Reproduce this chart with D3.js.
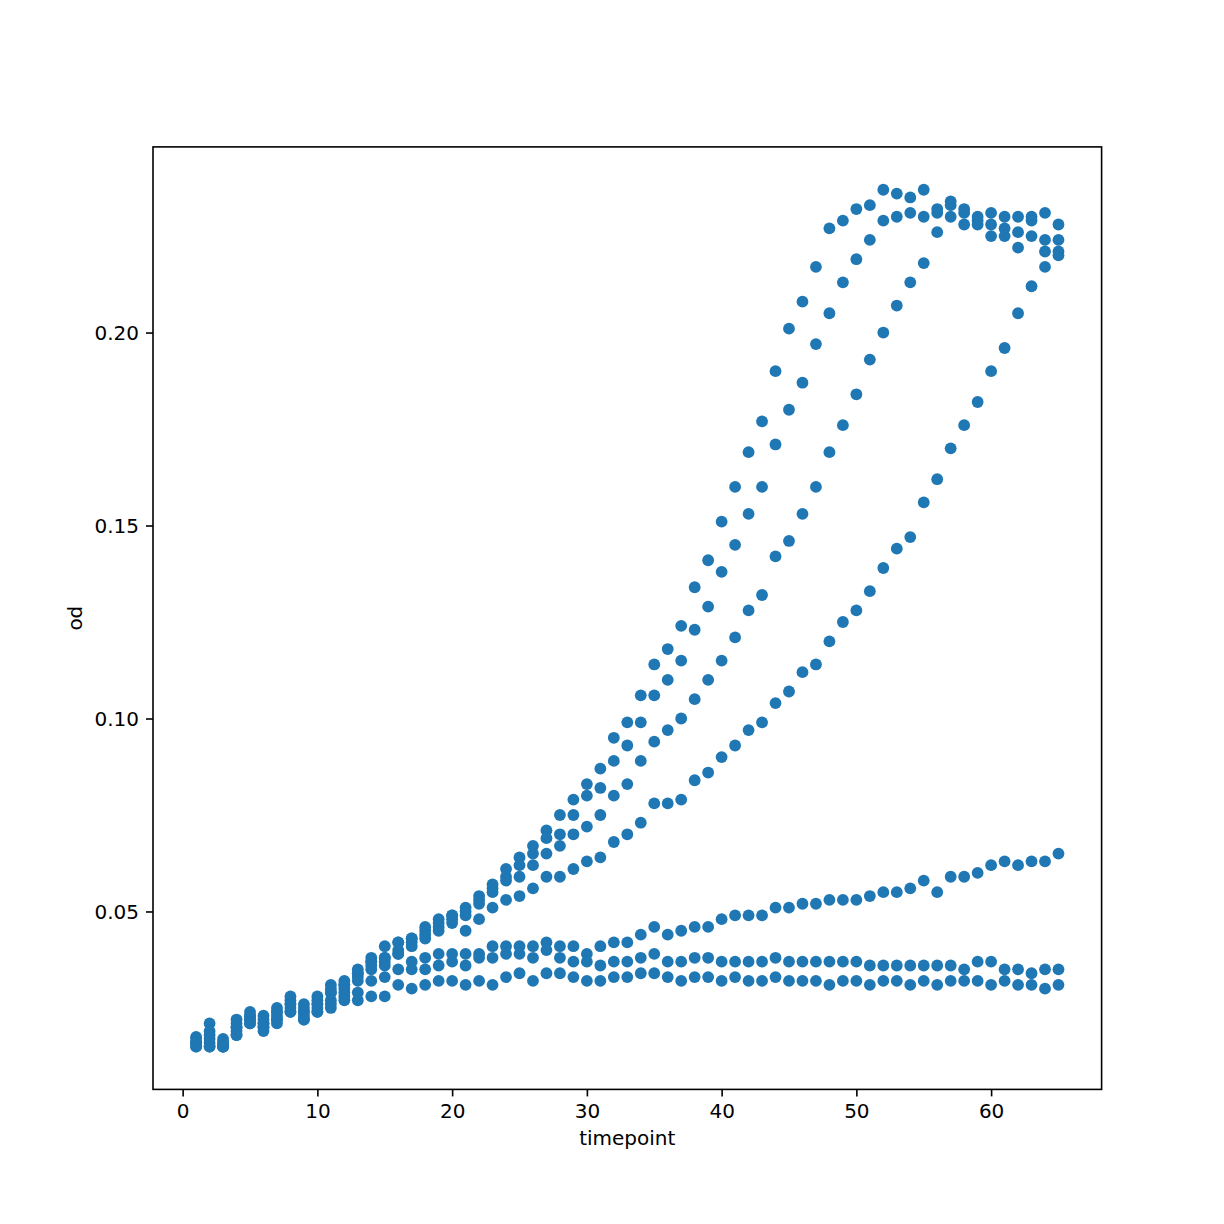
<!DOCTYPE html>
<html>
<head>
<meta charset="utf-8">
<script src="https://cdn.jsdelivr.net/npm/d3@7"></script>
<style>
  html, body { margin: 0; padding: 0; background: #ffffff; }
  svg { display: block; }
  text { font-family: "DejaVu Sans", sans-serif; fill: #000; }
</style>
</head>
<body>
<div id="chart"></div>
<script>
// ---- data ----
const timepoints = [1,2,3,4,5,6,7,8,9,10,11,12,13,14,15,16,17,18,19,20,
  21,22,23,24,25,26,27,28,29,30,31,32,33,34,35,36,37,38,39,40,
  41,42,43,44,45,46,47,48,49,50,51,52,53,54,55,56,57,58,59,60,61,62,63,64,65];

const odA = [0.0175,0.021,0.017,0.022,0.024,0.023,0.025,0.028,0.026,0.028,0.031,0.032,0.035,0.038,0.041,0.042,0.043,0.046,0.048,0.049,
  0.051,0.054,0.057,0.061,0.064,0.067,0.071,0.075,0.079,0.083,0.087,0.095,0.099,0.106,0.114,0.118,0.124,0.134,0.141,0.151,
  0.160,0.169,0.177,0.190,0.201,0.208,0.217,0.227,0.229,0.232,0.233,0.237,0.236,0.235,0.237,0.232,0.234,0.232,0.230,0.231,0.230,0.230,0.230,0.231,0.228];

const odA2 = [0.017,0.019,0.016,0.021,0.023,0.022,0.024,0.027,0.025,0.027,0.030,0.031,0.034,0.037,0.038,0.042,0.043,0.045,0.047,0.049,
  0.050,0.053,0.056,0.059,0.062,0.065,0.069,0.070,0.075,0.080,0.082,0.089,0.093,0.099,0.106,0.110,0.115,0.123,0.129,0.138,
  0.145,0.153,0.160,0.171,0.180,0.187,0.197,0.205,0.213,0.219,0.224,0.229,0.230,0.231,0.230,0.231,0.233,0.231,0.229,0.228,0.227,0.226,0.229,0.224,0.224];

const odB = [0.016,0.018,0.016,0.020,0.023,0.021,0.024,0.026,0.024,0.026,0.029,0.031,0.034,0.037,0.038,0.040,0.042,0.044,0.046,0.048,
  0.049,0.052,0.055,0.058,0.059,0.062,0.065,0.067,0.070,0.072,0.075,0.080,0.083,0.089,0.094,0.097,0.100,0.105,0.110,0.115,
  0.121,0.128,0.132,0.142,0.146,0.153,0.160,0.169,0.176,0.184,0.193,0.200,0.207,0.213,0.218,0.226,0.230,0.228,0.228,0.225,0.225,0.222,0.225,0.221,0.221];

const odC = [0.016,0.017,0.015,0.020,0.022,0.021,0.023,0.026,0.024,0.026,0.029,0.030,0.033,0.036,0.037,0.039,0.041,0.043,0.045,0.047,
  0.045,0.048,0.051,0.053,0.054,0.056,0.059,0.059,0.061,0.063,0.064,0.068,0.070,0.073,0.078,0.078,0.079,0.084,0.086,0.090,
  0.093,0.097,0.099,0.104,0.107,0.112,0.114,0.120,0.125,0.128,0.133,0.139,0.144,0.147,0.156,0.162,0.170,0.176,0.182,0.190,0.196,0.205,0.212,0.217,0.220];

const odD = [0.016,0.016,0.015,0.019,0.022,0.020,0.022,0.025,0.023,0.025,0.027,0.029,0.032,0.035,0.036,0.039,0.037,0.038,0.039,0.039,
  0.039,0.039,0.041,0.041,0.041,0.041,0.042,0.041,0.041,0.039,0.041,0.042,0.042,0.044,0.046,0.044,0.045,0.046,0.046,0.048,
  0.049,0.049,0.049,0.051,0.051,0.052,0.052,0.053,0.053,0.053,0.054,0.055,0.055,0.056,0.058,0.055,0.059,0.059,0.060,0.062,0.063,0.062,0.063,0.063,0.065];

const odE = [0.015,0.015,0.015,0.018,0.021,0.020,0.022,0.024,0.022,0.024,0.026,0.028,0.029,0.032,0.033,0.035,0.035,0.035,0.036,0.037,
  0.036,0.038,0.038,0.039,0.039,0.038,0.040,0.038,0.037,0.037,0.036,0.037,0.037,0.038,0.039,0.037,0.037,0.038,0.038,0.037,
  0.037,0.037,0.037,0.038,0.037,0.037,0.037,0.037,0.037,0.037,0.036,0.036,0.036,0.036,0.036,0.036,0.036,0.035,0.037,0.037,0.035,0.035,0.034,0.035,0.035];

const odF = [0.015,0.015,0.015,0.018,0.021,0.019,0.021,0.024,0.022,0.024,0.025,0.027,0.027,0.028,0.028,0.031,0.030,0.031,0.032,0.032,
  0.031,0.032,0.031,0.033,0.034,0.032,0.034,0.034,0.033,0.032,0.032,0.033,0.033,0.034,0.034,0.033,0.032,0.033,0.033,0.032,
  0.033,0.032,0.032,0.033,0.032,0.032,0.032,0.031,0.032,0.032,0.031,0.032,0.032,0.031,0.032,0.031,0.032,0.032,0.032,0.031,0.032,0.031,0.031,0.030,0.031];

const xTicks = [0, 10, 20, 30, 40, 50, 60];
const yTicks = [0.05, 0.10, 0.15, 0.20];
const xLabel = "timepoint";
const yLabel = "od";

// ---- build table ----
const seriesList = [odA, odA2, odB, odC, odD, odE, odF];
const points = [];
seriesList.forEach(s => s.forEach((v, i) => points.push({ t: timepoints[i], od: v })));

// ---- layout ----
const W = 1224, H = 1224;
const plotL = 153, plotR = 1101.6, plotT = 146.9, plotB = 1089.4;

const xExt = d3.extent(points, d => d.t);
const yExt = d3.extent(points, d => d.od);
const xPad = (xExt[1] - xExt[0]) * 0.05;
const yPad = (yExt[1] - yExt[0]) * 0.05;

const x = d3.scaleLinear().domain([xExt[0] - xPad, xExt[1] + xPad]).range([plotL, plotR]);
const y = d3.scaleLinear().domain([yExt[0] - yPad, yExt[1] + yPad]).range([plotB, plotT]);

const svg = d3.select("#chart").append("svg")
  .attr("width", W).attr("height", H).attr("viewBox", `0 0 ${W} ${H}`);

svg.append("rect").attr("width", W).attr("height", H).attr("fill", "#ffffff");

// points
svg.append("g").selectAll("circle")
  .data(points)
  .enter().append("circle")
  .attr("cx", d => x(d.t))
  .attr("cy", d => y(d.od))
  .attr("r", 5.9)
  .attr("fill", "#1f77b4");

// axes
const xAxis = d3.axisBottom(x).tickValues(xTicks).tickFormat(d3.format("d"))
  .tickSizeInner(7).tickSizeOuter(0).tickPadding(7);
const yAxis = d3.axisLeft(y).tickValues(yTicks).tickFormat(d3.format(".2f"))
  .tickSizeInner(7).tickSizeOuter(0).tickPadding(7);

const gx = svg.append("g").attr("transform", `translate(0,${plotB})`).call(xAxis);
const gy = svg.append("g").attr("transform", `translate(${plotL},0)`).call(yAxis);

[gx, gy].forEach(g => {
  g.select(".domain").remove();
  g.selectAll(".tick line").attr("stroke", "#000").attr("stroke-width", 1.6);
  g.selectAll(".tick text")
    .attr("font-family", "DejaVu Sans")
    .attr("font-size", 20)
    .attr("fill", "#000");
});
gx.selectAll(".tick text").attr("dy", null).attr("y", 28.7);
gy.selectAll(".tick text").attr("dy", "0.36em");

// frame (spines)
svg.append("rect")
  .attr("x", plotL).attr("y", plotT)
  .attr("width", plotR - plotL).attr("height", plotB - plotT)
  .attr("fill", "none").attr("stroke", "#000").attr("stroke-width", 1.6);

// axis labels
svg.append("text")
  .attr("x", (plotL + plotR) / 2).attr("y", 1145.3)
  .attr("text-anchor", "middle")
  .attr("font-size", 20)
  .text(xLabel);

svg.append("text")
  .attr("transform", `translate(82,${(plotT + plotB) / 2}) rotate(-90)`)
  .attr("text-anchor", "middle")
  .attr("font-size", 20)
  .text(yLabel);
</script>
</body>
</html>
